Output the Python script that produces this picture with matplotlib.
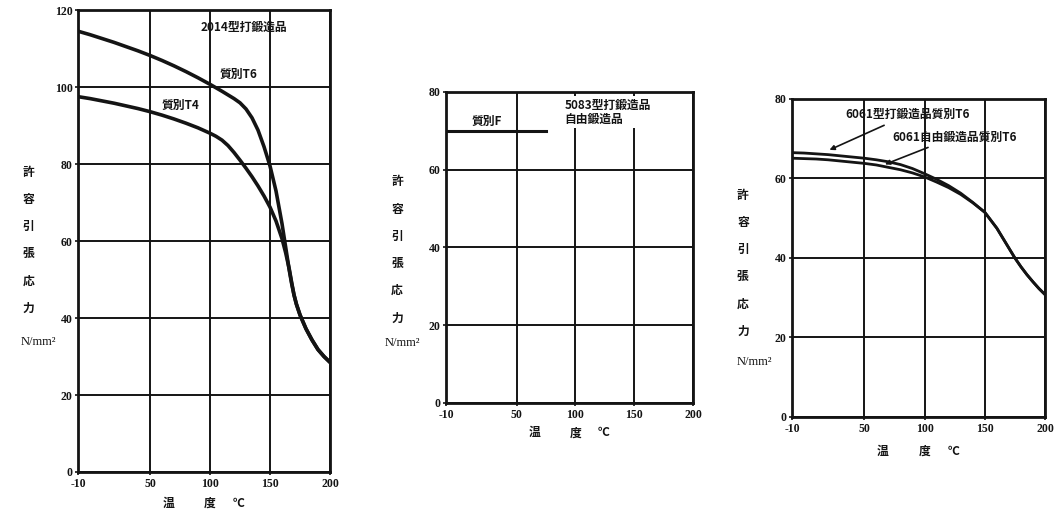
import numpy as np
import matplotlib.pyplot as plt
from matplotlib.transforms import blended_transform_factory

plt.rcParams["font.family"] = ["Noto Sans CJK JP", "DejaVu Sans"]

# allowable tensile stress (N/mm2) against temperature (deg C)
x_ticks = [-10, 50, 100, 150, 200]

# 2014 die forgings
t6_2014_temp = [-10, 0, 10, 20, 30, 40, 50, 60, 70, 80, 90, 100, 110, 120, 125,
                130, 135, 140, 145, 150, 155, 160, 163, 166, 168, 170, 172, 175,
                180, 185, 190, 195, 200]
t6_2014_stress = [114.5, 113.6, 112.6, 111.6, 110.5, 109.4, 108.2, 106.9, 105.5,
                  104.0, 102.4, 100.7, 98.9, 97.0, 95.9, 94.3, 92.0, 88.8, 84.5,
                  79.5, 73.0, 64.5, 58.5, 52.5, 49.0, 46.0, 43.6, 40.8, 37.2,
                  34.3, 31.8, 30.0, 28.5]
t4_2014_temp = [-10, 0, 10, 20, 30, 40, 50, 60, 70, 80, 90, 100, 105, 110, 115,
                120, 125, 130, 135, 140, 145, 150, 155, 160, 163, 166, 168, 170,
                172, 175, 180, 185, 190, 195, 200]
t4_2014_stress = [97.5, 97.0, 96.4, 95.8, 95.1, 94.4, 93.6, 92.7, 91.7, 90.6, 89.4,
                  88.0, 87.2, 86.2, 84.8, 83.0, 81.0, 78.9, 76.7, 74.3, 71.7, 68.8,
                  65.2, 60.6, 57.0, 52.8, 49.3, 46.0, 43.6, 40.8, 37.2, 34.3,
                  31.8, 30.0, 28.5]

# 5083 die / free forgings, temper F
f_5083_temp = [-10, 75]
f_5083_stress = [70, 70]

# 6061 T6 die forgings and free forgings
die_6061_temp = [-10, 0, 10, 20, 30, 40, 50, 60, 70, 80, 90, 100, 110, 120, 130,
                 140, 150, 160, 170, 175, 180, 185, 190, 195, 200]
die_6061_stress = [66.5, 66.4, 66.2, 66.0, 65.7, 65.4, 65.1, 64.7, 64.2, 63.5,
                   62.5, 61.2, 59.8, 58.2, 56.3, 54.0, 51.5, 47.5, 42.5, 40.0,
                   37.8, 35.8, 34.0, 32.3, 30.8]
free_6061_temp = [-10, 0, 10, 20, 30, 40, 50, 60, 70, 80, 90, 100, 110, 120, 130,
                  140, 150, 160, 170, 175, 180, 185, 190, 195, 200]
free_6061_stress = [65.1, 65.0, 64.9, 64.7, 64.4, 64.1, 63.8, 63.4, 62.8, 62.2,
                    61.4, 60.4, 59.1, 57.7, 56.0, 53.9, 51.5, 47.5, 42.5, 40.0,
                    37.8, 35.8, 34.0, 32.3, 30.8]

ylabel_chars = ["許", "容", "引", "張", "応", "力"]
xlabel_parts = [("温", 65), ("度", 100), ("℃", 124)]

fig = plt.figure(figsize=(10.56, 5.15), dpi=100)
ax1 = fig.add_axes([0.0739, 0.0835, 0.2386, 0.897])
ax2 = fig.add_axes([0.4223, 0.2175, 0.2339, 0.6039])
ax3 = fig.add_axes([0.7500, 0.1903, 0.2396, 0.6175])

ink = "#141414"
tick_font = dict(family="Liberation Serif", weight="bold", size=8.5)


def style_axes(ax, ymax, label_x, label_y, unit_x, unit_y, xlabel_drop):
    ax.set_xlim(-10, 200)
    ax.set_ylim(0, ymax)
    ax.set_xticks(x_ticks)
    ax.set_yticks(np.arange(0, ymax + 1, 20))
    ax.set_xticklabels([str(t) for t in x_ticks], fontdict=tick_font)
    ax.set_yticklabels([str(t) for t in range(0, ymax + 1, 20)], fontdict=tick_font)
    ax.tick_params(length=2, width=1.2, pad=2, colors=ink)
    ax.grid(True, color=ink, lw=1.4)
    for s in ax.spines.values():
        s.set_linewidth(2.0)
        s.set_color(ink)

    # stacked vertical axis title
    for i, ch in enumerate(ylabel_chars):
        ax.annotate(ch, xy=(label_x, label_y), xycoords="axes fraction",
                    xytext=(0, -i * 19.6), textcoords="offset points",
                    ha="center", va="center", fontsize=8.5, weight="bold",
                    color=ink)
    ax.annotate("N/mm²", xy=(unit_x, unit_y), xycoords="axes fraction",
                ha="center", va="center", fontsize=9,
                family="Liberation Serif", color=ink)

    trans = blended_transform_factory(ax.transData, ax.transAxes)
    for txt, xpos in xlabel_parts:
        ax.annotate(txt, xy=(xpos, 0), xycoords=trans,
                    xytext=(0, -xlabel_drop), textcoords="offset points",
                    ha="center", va="center", fontsize=8.5, weight="bold",
                    color=ink)


# 2014
style_axes(ax1, 120, -0.198, 0.649, -0.159, 0.281, 22.5)
ax1.plot(t6_2014_temp, t6_2014_stress, color=ink, lw=2.6, zorder=4)
ax1.plot(t4_2014_temp, t4_2014_stress, color=ink, lw=2.6, zorder=4)
ax1.text(92, 115.5, "2014型打鍛造品", fontsize=8.5, weight="bold", va="center",
         color=ink)
ax1.text(108, 103.2, "質別T6", fontsize=8.5, weight="bold", va="center", color=ink)
ax1.text(60, 95.3, "質別T4", fontsize=8.5, weight="bold", va="center", color=ink)

# 5083
style_axes(ax2, 80, -0.198, 0.711, -0.178, 0.193, 21.5)
ax2.plot(f_5083_temp, f_5083_stress, color=ink, lw=2.2, zorder=4)
ax2.text(12, 72.3, "質別F", fontsize=8.5, weight="bold", va="center", color=ink)
ax2.text(91, 74.8, "5083型打鍛造品\n自由鍛造品", fontsize=8.5, weight="bold",
         va="center", linespacing=1.15, color=ink,
         bbox=dict(facecolor="white", edgecolor="none", pad=1.5), zorder=5)

# 6061
style_axes(ax3, 80, -0.194, 0.698, -0.150, 0.173, 24.5)
ax3.plot(die_6061_temp, die_6061_stress, color=ink, lw=2.0, zorder=4)
ax3.plot(free_6061_temp, free_6061_stress, color=ink, lw=2.0, zorder=4)
arrow = dict(arrowstyle="-|>", color=ink, lw=1.2, mutation_scale=7)
ax3.annotate("6061型打鍛造品質別T6", xy=(19, 66.9), xytext=(34, 76),
             fontsize=8.5, weight="bold", va="center", color=ink,
             arrowprops=arrow)
ax3.annotate("6061自由鍛造品質別T6", xy=(65, 63.3), xytext=(73, 70.4),
             fontsize=8.5, weight="bold", va="center", color=ink,
             arrowprops=arrow)

fig.savefig("out.png", dpi=100)
